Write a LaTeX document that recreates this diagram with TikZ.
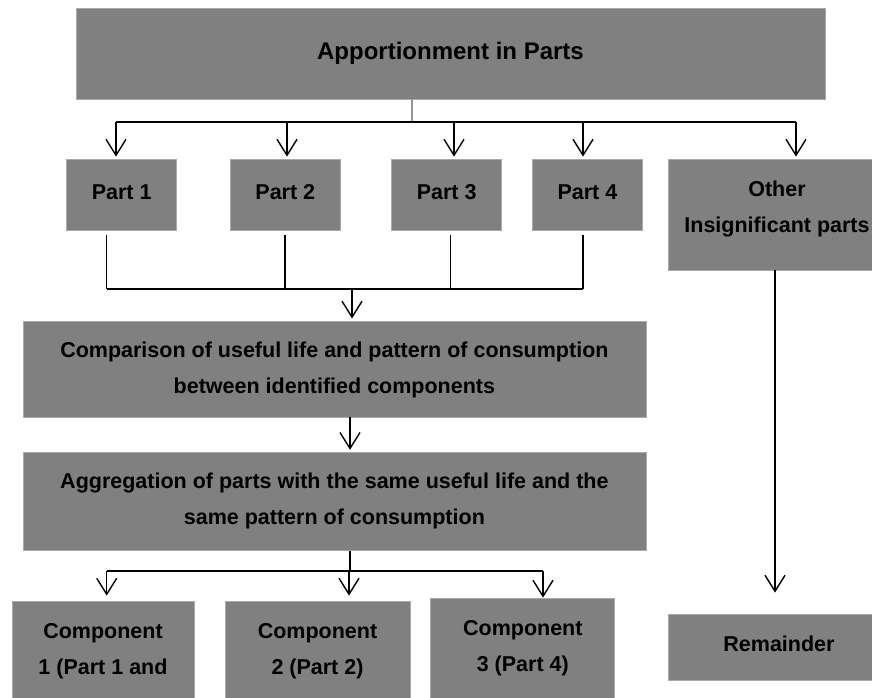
\documentclass[tikz,border=0pt]{standalone}
\usepackage{fontspec}
\setmainfont{Liberation Sans}
\usetikzlibrary{arrows.meta}
\definecolor{boxfill}{RGB}{128,128,128}
\definecolor{boxedge}{RGB}{170,170,170}
\definecolor{topline}{RGB}{150,150,150}
\begin{document}
\begin{tikzpicture}[x=1pt,y=-1pt,
  box/.style={rectangle, fill=boxfill, draw=boxedge, line width=0.8pt, inner sep=0pt},
  txt/.style={align=center, inner sep=0pt, font=\fontsize{21.5}{36}\selectfont\bfseries},
  conn/.style={line width=1.4pt, black},
  bus/.style={line width=2pt, black},
  arr/.style={conn, -{Straight Barb[length=16pt,width=20pt,line width=1.4pt]}}
]
\useasboundingbox (0,0) rectangle (872,698);
\clip (0,0) rectangle (872,698);
\fill[white] (0,0) rectangle (872,698);

% boxes
\node[box, minimum width=749pt, minimum height=91pt] (top) at (450.5,53.5) {};
\node[txt, font=\fontsize{24}{28}\selectfont\bfseries] (topT) at (450.5,53.5) {Apportionment in Parts};

\node[box, minimum width=110pt, minimum height=71pt] (p1) at (121.7,194.5) {};
\node[box, minimum width=110pt, minimum height=71pt] (p2) at (285.3,194.5) {};
\node[box, minimum width=110pt, minimum height=71pt] (p3) at (446.7,194.5) {};
\node[box, minimum width=110pt, minimum height=71pt] (p4) at (587.4,194.5) {};
\node[txt] (p1T) at (121.7,192) {Part 1};
\node[txt] (p2T) at (285.3,192) {Part 2};
\node[txt] (p3T) at (446.7,192) {Part 3};
\node[txt] (p4T) at (587.4,192) {Part 4};

\node[box, minimum width=218pt, minimum height=111pt] (other) at (777,214.5) {};
\node[txt] (otherT) at (777,209) {Other\\Insignificant parts};

\node[box, minimum width=623pt, minimum height=96pt] (comp) at (334.4,368.9) {};
\node[txt] (compT) at (334.4,370) {Comparison of useful life and pattern of consumption\\between identified components};

\node[box, minimum width=623pt, minimum height=98pt] (agg) at (334.4,501.2) {};
\node[txt] (aggT) at (334.4,501) {Aggregation of parts with the same useful life and the\\same pattern of consumption};

\node[box, minimum width=182pt, minimum height=120pt] (c1) at (103,661) {};
\node[box, minimum width=185pt, minimum height=120pt] (c2) at (317.5,661) {};
\node[box, minimum width=184pt, minimum height=126pt] (c3) at (522.8,661) {};
\node[txt] (c1T) at (103,651) {Component\\1 (Part 1 and};
\node[txt] (c2T) at (317.5,651) {Component\\2 (Part 2)};
\node[txt] (c3T) at (522.8,648) {Component\\3 (Part 4)};

\node[box, minimum width=218pt, minimum height=66pt] (rem) at (777,647) {};
\node[txt] (remT) at (779,644) {Remainder};

% top distribution
\coordinate (t0) at (412,122.5);
\coordinate (b1) at (116,122.5);
\coordinate (b2) at (287,122.5);
\coordinate (b3) at (454,122.5);
\coordinate (b4) at (583,122.5);
\coordinate (b5) at (796,122.5);
\draw[line width=1.2pt, topline] (top.south -| t0) -- (t0);
\draw[bus] (b1) -- (b5);
\draw[arr] (b1) -- ([yshift=2pt]b1 |- p1.north);
\draw[arr] (b2) -- ([yshift=2pt]b2 |- p2.north);
\draw[arr] (b3) -- ([yshift=2pt]b3 |- p3.north);
\draw[arr] (b4) -- ([yshift=2pt]b4 |- p4.north);
\draw[arr] (b5) -- ([yshift=2pt]b5 |- other.north);

% parts merge
\coordinate (m1) at (106.7,289.3);
\coordinate (m2) at (285,289.3);
\coordinate (m3) at (450.6,289.3);
\coordinate (m4) at (583,289.3);
\coordinate (m0) at (352,289.3);
\draw[conn] ([yshift=-5pt]m1 |- p1.south) -- (m1);
\draw[conn] ([yshift=-5pt]m2 |- p2.south) -- (m2);
\draw[conn] ([yshift=-5pt]m3 |- p3.south) -- (m3);
\draw[conn] ([yshift=-5pt]m4 |- p4.south) -- (m4);
\draw[bus] (m1) -- (m4);
\draw[arr] (m0) -- ([yshift=2pt]m0 |- comp.north);

% comparison -> aggregation
\coordinate (ca) at (350,417);
\draw[arr] (ca |- comp.south) -- ([yshift=2pt]ca |- agg.north);

% aggregation -> components
\coordinate (a0) at (350,571);
\coordinate (a1) at (106.7,571);
\coordinate (a2) at (349,571);
\coordinate (a3) at (543,571);
\draw[conn] (a0 |- agg.south) -- (a0);
\draw[bus] (a1) -- (a3);
\draw[arr] (a1) -- ([yshift=5pt]a1 |- c1.north);
\draw[arr] (a2) -- ([yshift=5pt]a2 |- c2.north);
\draw[arr] (a3) -- (a3 |- c3.north);

% other -> remainder
\coordinate (o0) at (775,270);
\draw[arr] (o0 |- other.south) -- ([yshift=21pt]o0 |- rem.north);
\end{tikzpicture}
\end{document}
